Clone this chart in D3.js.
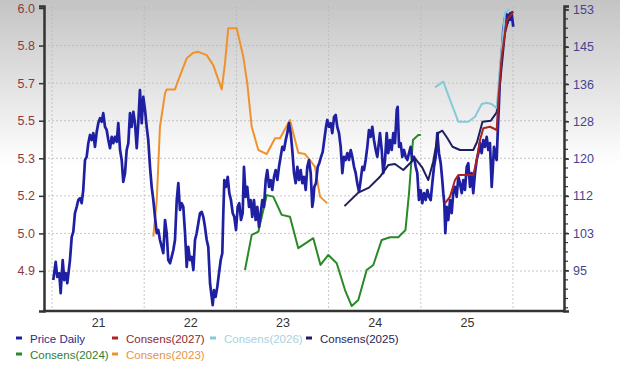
<!DOCTYPE html>
<html><head><meta charset="utf-8">
<script src="https://cdn.jsdelivr.net/npm/d3@7"></script>
<style>html,body{margin:0;padding:0;background:#fff;}svg{display:block;font-family:"Liberation Sans",Arial,sans-serif;}</style>
</head><body><svg id="c" width="620" height="367"></svg>
<script>
// ---- data ----
const yearTicks = [2021.5, 2022.5, 2023.5, 2024.5, 2025.5];
const yearLabels = ["21", "22", "23", "24", "25"];
const yearGrid = [2021, 2022, 2023, 2024, 2025, 2026];
const epsTicks = [4.9, 5.05, 5.2, 5.35, 5.5, 5.65, 5.8, 5.95];
const epsTickLabels = ["4.9", "5.0", "5.2", "5.3", "5.5", "5.7", "5.8", "6.0"];
const priceTicks = [95, 103.2, 111.4, 119.6, 127.8, 136, 144.2, 152.4];
const priceTickLabels = ["95", "103", "112", "120", "128", "136", "145", "153"];

const priceDaily = [
[2021.014,92.9],[2021.040,96.9],[2021.057,93.6],[2021.079,94.4],[2021.094,90.0],[2021.116,97.3],[2021.133,92.9],[2021.152,94.4],[2021.166,92.2],[2021.195,97.3],
[2021.214,102.4],[2021.231,103.5],[2021.249,107.6],[2021.268,109.0],[2021.285,110.5],[2021.304,110.9],[2021.322,109.8],[2021.339,112.7],[2021.358,119.3],[2021.376,120.0],
[2021.394,123.0],[2021.412,124.8],[2021.431,123.7],[2021.448,125.2],[2021.466,122.2],[2021.485,125.5],[2021.502,127.4],[2021.521,128.5],[2021.539,127.7],[2021.556,129.6],
[2021.575,126.6],[2021.593,125.9],[2021.611,123.7],[2021.629,121.9],[2021.648,124.4],[2021.665,123.0],[2021.683,124.4],[2021.702,123.3],[2021.719,127.4],[2021.738,121.5],
[2021.756,119.3],[2021.773,114.5],[2021.792,116.4],[2021.810,121.5],[2021.828,123.0],[2021.846,129.6],[2021.864,126.6],[2021.882,129.9],[2021.900,127.4],[2021.919,121.9],
[2021.936,127.4],[2021.954,134.7],[2021.973,127.4],[2021.990,133.2],[2022.009,130.3],[2022.027,126.6],[2022.044,123.7],[2022.063,117.8],[2022.081,113.4],[2022.099,110.5],
[2022.117,106.8],[2022.136,103.2],[2022.153,103.9],[2022.171,101.7],[2022.190,100.2],[2022.207,98.8],[2022.226,106.1],[2022.244,103.2],[2022.261,97.3],[2022.280,96.6],
[2022.298,98.0],[2022.316,99.5],[2022.334,101.7],[2022.353,110.5],[2022.370,114.2],[2022.388,108.3],[2022.407,109.8],[2022.424,109.0],[2022.443,103.2],[2022.461,95.8],
[2022.478,100.2],[2022.497,97.3],[2022.515,98.0],[2022.533,95.1],[2022.551,101.7],[2022.569,103.2],[2022.587,105.4],[2022.605,107.6],[2022.624,107.9],[2022.641,106.8],
[2022.659,104.6],[2022.678,101.7],[2022.695,100.2],[2022.714,92.2],[2022.732,89.2],[2022.743,87.4],[2022.757,90.7],[2022.775,89.2],[2022.793,91.4],[2022.811,94.4],
[2022.830,97.3],[2022.847,98.8],[2022.858,107.6],[2022.869,114.9],[2022.887,113.4],[2022.906,115.6],[2022.923,112.0],[2022.941,110.5],[2022.960,107.6],[2022.977,106.8],
[2022.996,103.9],[2023.014,109.0],[2023.031,109.8],[2023.050,106.1],[2023.068,107.6],[2023.082,117.8],[2023.101,111.2],[2023.118,113.4],[2023.137,109.0],[2023.155,110.5],
[2023.172,106.8],[2023.191,110.5],[2023.209,106.1],[2023.227,109.0],[2023.245,104.6],[2023.264,107.6],[2023.281,110.5],[2023.299,109.0],[2023.318,114.9],[2023.335,117.1],
[2023.354,113.4],[2023.372,114.9],[2023.389,112.7],[2023.408,115.6],[2023.426,117.1],[2023.444,114.9],[2023.462,117.8],[2023.480,120.0],[2023.498,122.2],[2023.516,121.5],
[2023.535,123.7],[2023.552,125.2],[2023.570,127.4],[2023.589,125.2],[2023.606,121.5],[2023.625,116.4],[2023.643,114.2],[2023.661,117.8],[2023.679,114.9],[2023.697,117.1],
[2023.715,114.2],[2023.733,115.6],[2023.752,112.7],[2023.769,117.8],[2023.787,119.3],[2023.806,116.4],[2023.823,109.0],[2023.834,110.5],[2023.845,113.4],[2023.863,114.2],
[2023.882,117.8],[2023.899,118.6],[2023.918,120.0],[2023.936,121.1],[2023.953,123.7],[2023.972,126.6],[2023.986,128.1],[2024.004,126.6],[2024.023,127.4],[2024.040,125.2],
[2024.059,128.8],[2024.077,129.2],[2024.094,126.6],[2024.113,125.2],[2024.131,122.2],[2024.149,116.4],[2024.167,120.0],[2024.185,119.3],[2024.203,120.8],[2024.221,119.3],
[2024.240,121.5],[2024.257,120.0],[2024.276,117.8],[2024.294,116.4],[2024.311,114.2],[2024.330,112.3],[2024.348,114.9],[2024.366,117.8],[2024.384,117.1],[2024.402,119.3],
[2024.420,122.2],[2024.438,125.9],[2024.457,124.4],[2024.474,126.6],[2024.492,123.7],[2024.511,121.5],[2024.528,120.0],[2024.557,125.2],[2024.576,121.5],[2024.593,116.4],
[2024.612,119.3],[2024.630,125.2],[2024.647,120.8],[2024.666,123.7],[2024.684,121.5],[2024.702,125.2],[2024.720,123.0],[2024.739,130.3],[2024.749,131.0],[2024.764,122.2],
[2024.782,123.0],[2024.799,120.0],[2024.818,121.5],[2024.836,120.0],[2024.854,119.3],[2024.872,120.8],[2024.890,122.2],[2024.908,119.3],[2024.926,120.0],[2024.945,117.8],
[2024.962,116.4],[2024.980,110.5],[2024.999,112.7],[2025.016,109.8],[2025.035,112.0],[2025.053,110.5],[2025.071,112.7],[2025.089,111.2],[2025.107,110.5],[2025.125,114.2],
[2025.143,117.8],[2025.162,120.0],[2025.179,125.2],[2025.197,120.8],[2025.216,118.6],[2025.233,114.9],[2025.244,112.0],[2025.255,109.8],[2025.266,103.2],[2025.281,109.0],
[2025.298,106.1],[2025.317,110.5],[2025.335,107.6],[2025.352,112.0],[2025.371,113.4],[2025.389,111.2],[2025.407,115.6],[2025.425,114.2],[2025.444,112.0],[2025.461,114.9],
[2025.479,112.7],[2025.498,117.8],[2025.515,118.6],[2025.534,113.4],[2025.552,116.4],[2025.569,112.0],[2025.588,116.4],[2025.606,119.3],[2025.624,120.8],[2025.642,123.0],
[2025.660,120.8],[2025.678,123.7],[2025.696,122.2],[2025.715,124.4],[2025.732,121.5],[2025.750,123.0],[2025.769,113.4],[2025.780,117.1],[2025.794,122.2],[2025.812,120.0],
[2025.823,119.3],[2025.834,125.2],[2025.845,130.3],[2025.856,136.2],[2025.866,139.8],[2025.881,143.5],[2025.895,147.9],[2025.910,150.1],[2025.924,151.6],[2025.938,149.4],
[2025.953,151.2],[2025.967,150.1],[2025.985,151.6],[2026.003,148.6]
];

const consens2027 = [
[2025.262,5.170],[2025.317,5.197],[2025.371,5.263],[2025.407,5.283],[2025.569,5.283],[2025.606,5.343],[2025.642,5.423],
[2025.678,5.470],[2025.751,5.476],[2025.823,5.463],[2025.841,5.583],[2025.877,5.755],[2025.932,5.902],[2026.003,5.935]
];
const consens2026 = [
[2025.154,5.633],[2025.244,5.656],[2025.317,5.583],[2025.407,5.496],[2025.515,5.496],[2025.588,5.516],[2025.661,5.567],
[2025.715,5.572],[2025.769,5.567],[2025.823,5.550],[2025.859,5.716],[2025.913,5.929],[2025.957,5.946]
];
const consens2025 = [
[2024.172,5.159],[2024.322,5.213],[2024.438,5.233],[2024.557,5.276],[2024.647,5.323],[2024.720,5.327],[2024.810,5.303],
[2024.883,5.330],[2024.937,5.350],[2025.013,5.315],[2025.081,5.263],[2025.135,5.337],[2025.190,5.451],[2025.234,5.460],
[2025.289,5.430],[2025.344,5.396],[2025.425,5.383],[2025.569,5.383],[2025.610,5.415],[2025.669,5.496],[2025.759,5.500],
[2025.823,5.533],[2025.859,5.649],[2025.913,5.849],[2025.967,5.929],[2026.003,5.935]
];
const consens2024 = [
[2023.093,4.904],[2023.166,5.044],[2023.238,5.057],[2023.329,5.203],[2023.400,5.197],[2023.491,5.124],[2023.581,5.117],
[2023.671,4.991],[2023.834,5.031],[2023.912,4.924],[2023.997,4.964],[2024.088,4.931],[2024.178,4.824],[2024.251,4.760],
[2024.322,4.784],[2024.413,4.904],[2024.485,4.924],[2024.576,5.024],[2024.666,5.035],[2024.756,5.035],[2024.834,5.064],
[2024.872,5.210],[2024.915,5.423],[2024.973,5.443],[2025.000,5.443]
];
const consens2023 = [
[2022.099,5.037],[2022.136,5.183],[2022.171,5.476],[2022.226,5.609],[2022.244,5.625],[2022.334,5.625],[2022.370,5.662],
[2022.461,5.749],[2022.533,5.771],[2022.587,5.775],[2022.678,5.762],[2022.749,5.722],[2022.841,5.625],[2022.876,5.729],
[2022.912,5.869],[2023.003,5.869],[2023.075,5.755],[2023.118,5.649],[2023.166,5.476],[2023.238,5.383],[2023.329,5.367],
[2023.419,5.430],[2023.473,5.430],[2023.581,5.503],[2023.671,5.372],[2023.744,5.367],[2023.798,5.343],[2023.852,5.316],
[2023.907,5.197],[2023.986,5.170]
];

const seriesNames = ["Price Daily","Consens(2027)","Consens(2026)","Consens(2025)","Consens(2024)","Consens(2023)"];

// ---- chart ----
const svg = d3.select("#c");
const L = 44, R = 564, T = 6, B = 311;

const defs = svg.append("defs");
const grad = defs.append("linearGradient").attr("id","bg").attr("x1",0).attr("y1",0).attr("x2",0).attr("y2",1);
grad.append("stop").attr("offset","0").attr("stop-color","#c4c4c4");
grad.append("stop").attr("offset","0.45").attr("stop-color","#ffffff");
grad.append("stop").attr("offset","1").attr("stop-color","#ffffff");
svg.append("rect").attr("width",620).attr("height",367).attr("fill","url(#bg)");

const x = d3.scaleLinear().domain([2021, 2026]).range([52, 513]);
const yL = d3.scaleLinear().domain([4.7403, 5.958]).range([B, T]);
const yR = d3.scaleLinear().domain([86.09, 153.17]).range([B, T]);

// grid
const grid = svg.append("g").attr("stroke","#b9b9b9").attr("stroke-width",0.8).attr("stroke-dasharray","2,2");
grid.selectAll("line.h").data(epsTicks).join("line")
  .attr("x1",L).attr("x2",R).attr("y1",d=>yL(d)).attr("y2",d=>yL(d));
grid.selectAll("line.v").data(yearGrid).join("line")
  .attr("y1",T).attr("y2",B).attr("x1",d=>x(d)).attr("x2",d=>x(d));

// lines
const lineP = d3.line().x(d=>x(d[0])).y(d=>yR(d[1]));
const lineE = d3.line().x(d=>x(d[0])).y(d=>yL(d[1]));

function drawCons(data, color){
  svg.append("path").datum(data).attr("d",lineE).attr("fill","none")
    .attr("stroke",color).attr("stroke-width",2).attr("stroke-linejoin","round");
}
drawCons(consens2023, "#ee922e");
drawCons(consens2024, "#278a27");
svg.append("path").datum(priceDaily).attr("d",lineP).attr("fill","none")
  .attr("stroke","#1f1fa3").attr("stroke-width",2.7).attr("stroke-linejoin","round");
drawCons(consens2025, "#1e1e62");
drawCons(consens2026, "#86c9da");
drawCons(consens2027, "#ad2323");

// axes
const axL = svg.append("g").attr("transform",`translate(${L},0)`)
  .call(d3.axisLeft(yL).tickValues(epsTicks).tickFormat((d,i)=>epsTickLabels[i]).tickSize(5).tickPadding(4));
axL.select(".domain").attr("stroke","#333").attr("stroke-width",2.5);
axL.selectAll(".tick line").attr("stroke","#333").attr("stroke-width",1.5);
axL.selectAll("text").attr("fill","#8e3a3a").attr("font-size","12.5px").attr("font-family","Liberation Sans, Arial, sans-serif");

const minorTicks = d3.range(86.9, 153.3, 2.05);
const axRm = svg.append("g").attr("transform",`translate(${R},0)`)
  .call(d3.axisRight(yR).tickValues(minorTicks).tickFormat("").tickSize(4));
axRm.select(".domain").remove();
axRm.selectAll(".tick line").attr("stroke","#333").attr("stroke-width",1.2);
const axR = svg.append("g").attr("transform",`translate(${R},0)`)
  .call(d3.axisRight(yR).tickValues(priceTicks).tickFormat((d,i)=>priceTickLabels[i]).tickSize(5).tickPadding(4));
axR.select(".domain").attr("stroke","#333").attr("stroke-width",2.5);
axR.selectAll(".tick line").attr("stroke","#333").attr("stroke-width",1.5);
axR.selectAll("text").attr("fill","#45458f").attr("font-size","12.5px").attr("font-family","Liberation Sans, Arial, sans-serif");

const axB = svg.append("g").attr("transform",`translate(0,${B})`)
  .call(d3.axisBottom(x).tickValues(yearTicks).tickFormat((d,i)=>yearLabels[i]).tickSize(0).tickPadding(7));
axB.select(".domain").remove();
axB.selectAll("text").attr("fill","#333").attr("font-size","12.5px").attr("font-family","Liberation Sans, Arial, sans-serif");
svg.append("line").attr("x1",L-1).attr("x2",R+1).attr("y1",B).attr("y2",B).attr("stroke","#333").attr("stroke-width",2.5);

// legend
const legendItems = [
  {name:seriesNames[0], color:"#1f1fa3", text:"#2b2b8c", x:16, y:338},
  {name:seriesNames[1], color:"#ad2323", text:"#8e2a2a", x:112, y:338},
  {name:seriesNames[2], color:"#86c9da", text:"#a9d2de", x:210, y:338},
  {name:seriesNames[3], color:"#1e1e62", text:"#1e1e55", x:306, y:338},
  {name:seriesNames[4], color:"#278a27", text:"#2f7d2f", x:16, y:354},
  {name:seriesNames[5], color:"#ee922e", text:"#e49442", x:112, y:354}
];
const lg = svg.append("g");
legendItems.forEach(it=>{
  lg.append("line").attr("x1",it.x).attr("x2",it.x+6).attr("y1",it.y).attr("y2",it.y)
    .attr("stroke",it.color).attr("stroke-width",3);
  lg.append("text").attr("x",it.x+14).attr("y",it.y+4.5).attr("fill",it.text)
    .attr("font-size","11.5px").text(it.name);
});
</script></body></html>
